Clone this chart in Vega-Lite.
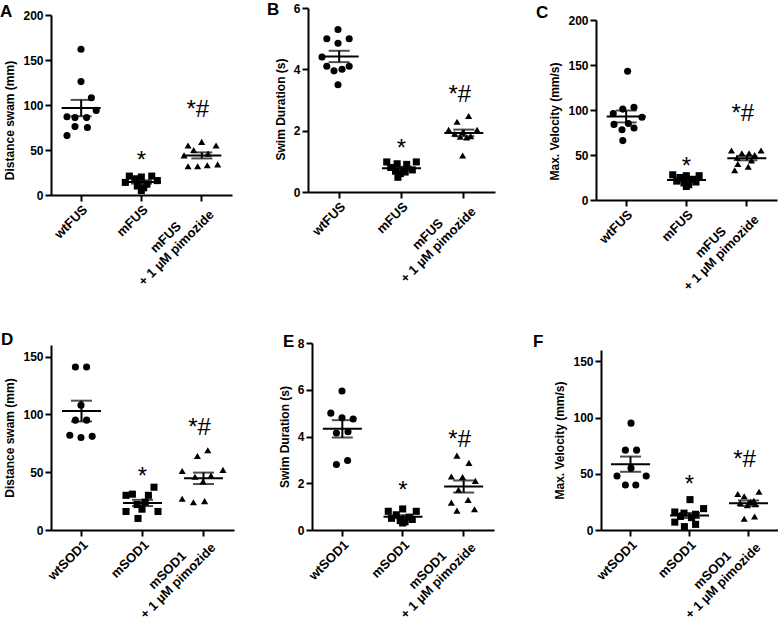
{
"$schema":"https://vega.github.io/schema/vega-lite/v6.json",
"autosize":{"type":"none"},
"padding":{"left":51,"top":8,"right":727,"bottom":613},
"datasets":{"pts":[
{"panel":"A","group":"wtFUS","value":162,"jitter":0},{"panel":"A","group":"wtFUS","value":126,"jitter":0},{"panel":"A","group":"wtFUS","value":108,"jitter":1.3},{"panel":"A","group":"wtFUS","value":94,"jitter":1.9},{"panel":"A","group":"wtFUS","value":87,"jitter":-1.75},{"panel":"A","group":"wtFUS","value":86,"jitter":-0.75},{"panel":"A","group":"wtFUS","value":86,"jitter":0.7},{"panel":"A","group":"wtFUS","value":76,"jitter":-0.75},{"panel":"A","group":"wtFUS","value":75,"jitter":0.8},{"panel":"A","group":"wtFUS","value":66,"jitter":-1.75},
{"panel":"A","group":"mFUS","value":21,"jitter":-1.5},{"panel":"A","group":"mFUS","value":20,"jitter":0},{"panel":"A","group":"mFUS","value":21,"jitter":1.3},{"panel":"A","group":"mFUS","value":18,"jitter":-0.7},{"panel":"A","group":"mFUS","value":16,"jitter":2},{"panel":"A","group":"mFUS","value":14,"jitter":-2},{"panel":"A","group":"mFUS","value":12,"jitter":0.7},{"panel":"A","group":"mFUS","value":10,"jitter":-0.5},{"panel":"A","group":"mFUS","value":8,"jitter":0.3},{"panel":"A","group":"mFUS","value":5,"jitter":0},
{"panel":"A","group":"mFUS + 1 µM pimozide","value":59,"jitter":0},{"panel":"A","group":"mFUS + 1 µM pimozide","value":55,"jitter":-1.7},{"panel":"A","group":"mFUS + 1 µM pimozide","value":55,"jitter":1.8},{"panel":"A","group":"mFUS + 1 µM pimozide","value":50,"jitter":-1},{"panel":"A","group":"mFUS + 1 µM pimozide","value":46,"jitter":0.8},{"panel":"A","group":"mFUS + 1 µM pimozide","value":44,"jitter":-2.2},{"panel":"A","group":"mFUS + 1 µM pimozide","value":34,"jitter":2},{"panel":"A","group":"mFUS + 1 µM pimozide","value":32,"jitter":-1.7},{"panel":"A","group":"mFUS + 1 µM pimozide","value":32,"jitter":-0.5},{"panel":"A","group":"mFUS + 1 µM pimozide","value":33,"jitter":0.7},
{"panel":"B","group":"wtFUS","value":5.3,"jitter":0},{"panel":"B","group":"wtFUS","value":5.0,"jitter":-1.4},{"panel":"B","group":"wtFUS","value":5.0,"jitter":1.4},{"panel":"B","group":"wtFUS","value":4.85,"jitter":0},{"panel":"B","group":"wtFUS","value":4.4,"jitter":-2},{"panel":"B","group":"wtFUS","value":4.1,"jitter":-1.4},{"panel":"B","group":"wtFUS","value":4.1,"jitter":1.4},{"panel":"B","group":"wtFUS","value":4.0,"jitter":0.5},{"panel":"B","group":"wtFUS","value":3.95,"jitter":-0.5},{"panel":"B","group":"wtFUS","value":3.5,"jitter":0},
{"panel":"B","group":"mFUS","value":0.98,"jitter":-1.7},{"panel":"B","group":"mFUS","value":0.98,"jitter":2},{"panel":"B","group":"mFUS","value":0.92,"jitter":-0.4},{"panel":"B","group":"mFUS","value":0.9,"jitter":0.8},{"panel":"B","group":"mFUS","value":0.8,"jitter":-1.2},{"panel":"B","group":"mFUS","value":0.72,"jitter":1.5},{"panel":"B","group":"mFUS","value":0.68,"jitter":-0.6},{"panel":"B","group":"mFUS","value":0.65,"jitter":0.6},{"panel":"B","group":"mFUS","value":0.6,"jitter":0},{"panel":"B","group":"mFUS","value":0.48,"jitter":-0.3},
{"panel":"B","group":"mFUS + 1 µM pimozide","value":2.48,"jitter":0.75},{"panel":"B","group":"mFUS + 1 µM pimozide","value":2.29,"jitter":-0.7},{"panel":"B","group":"mFUS + 1 µM pimozide","value":2.03,"jitter":-1.75},{"panel":"B","group":"mFUS + 1 µM pimozide","value":2.03,"jitter":1.8},{"panel":"B","group":"mFUS + 1 µM pimozide","value":1.95,"jitter":0},{"panel":"B","group":"mFUS + 1 µM pimozide","value":1.9,"jitter":-1},{"panel":"B","group":"mFUS + 1 µM pimozide","value":1.82,"jitter":1},{"panel":"B","group":"mFUS + 1 µM pimozide","value":1.8,"jitter":-0.3},{"panel":"B","group":"mFUS + 1 µM pimozide","value":1.78,"jitter":0.5},{"panel":"B","group":"mFUS + 1 µM pimozide","value":1.19,"jitter":0},
{"panel":"C","group":"wtFUS","value":143,"jitter":0.2},{"panel":"C","group":"wtFUS","value":103,"jitter":1},{"panel":"C","group":"wtFUS","value":101,"jitter":-0.4},{"panel":"C","group":"wtFUS","value":96,"jitter":-1.6},{"panel":"C","group":"wtFUS","value":92,"jitter":2},{"panel":"C","group":"wtFUS","value":84,"jitter":-1.5},{"panel":"C","group":"wtFUS","value":85,"jitter":0.3},{"panel":"C","group":"wtFUS","value":80,"jitter":1},{"panel":"C","group":"wtFUS","value":78,"jitter":-0.5},{"panel":"C","group":"wtFUS","value":66,"jitter":-0.4},
{"panel":"C","group":"mFUS","value":28,"jitter":-1.7},{"panel":"C","group":"mFUS","value":27,"jitter":0},{"panel":"C","group":"mFUS","value":27,"jitter":1.6},{"panel":"C","group":"mFUS","value":25,"jitter":-0.8},{"panel":"C","group":"mFUS","value":23,"jitter":0.8},{"panel":"C","group":"mFUS","value":21,"jitter":-1.2},{"panel":"C","group":"mFUS","value":20,"jitter":1.2},{"panel":"C","group":"mFUS","value":19,"jitter":-0.3},{"panel":"C","group":"mFUS","value":17,"jitter":0.3},{"panel":"C","group":"mFUS","value":15,"jitter":0},
{"panel":"C","group":"mFUS + 1 µM pimozide","value":55,"jitter":-1.9},{"panel":"C","group":"mFUS + 1 µM pimozide","value":55,"jitter":1.8},{"panel":"C","group":"mFUS + 1 µM pimozide","value":52,"jitter":-0.6},{"panel":"C","group":"mFUS + 1 µM pimozide","value":52,"jitter":0.3},{"panel":"C","group":"mFUS + 1 µM pimozide","value":50,"jitter":1},{"panel":"C","group":"mFUS + 1 µM pimozide","value":47,"jitter":-1.2},{"panel":"C","group":"mFUS + 1 µM pimozide","value":44,"jitter":0.6},{"panel":"C","group":"mFUS + 1 µM pimozide","value":40,"jitter":-1.1},{"panel":"C","group":"mFUS + 1 µM pimozide","value":37,"jitter":0.2},{"panel":"C","group":"mFUS + 1 µM pimozide","value":33,"jitter":-1.5},
{"panel":"D","group":"wtSOD1","value":141,"jitter":-0.7},{"panel":"D","group":"wtSOD1","value":141,"jitter":0.7},{"panel":"D","group":"wtSOD1","value":108,"jitter":0},{"panel":"D","group":"wtSOD1","value":95,"jitter":-0.7},{"panel":"D","group":"wtSOD1","value":95,"jitter":0.7},{"panel":"D","group":"wtSOD1","value":82,"jitter":-1.4},{"panel":"D","group":"wtSOD1","value":80,"jitter":0},{"panel":"D","group":"wtSOD1","value":81,"jitter":1.4},
{"panel":"D","group":"mSOD1","value":37,"jitter":1.5},{"panel":"D","group":"mSOD1","value":31,"jitter":-1.2},{"panel":"D","group":"mSOD1","value":30,"jitter":-2},{"panel":"D","group":"mSOD1","value":30,"jitter":0.8},{"panel":"D","group":"mSOD1","value":24,"jitter":0.4},{"panel":"D","group":"mSOD1","value":22,"jitter":-0.6},{"panel":"D","group":"mSOD1","value":18,"jitter":0},{"panel":"D","group":"mSOD1","value":16,"jitter":-2},{"panel":"D","group":"mSOD1","value":16,"jitter":2},{"panel":"D","group":"mSOD1","value":10,"jitter":-0.5},
{"panel":"D","group":"mSOD1 + 1 µM pimozide","value":69,"jitter":0.6},{"panel":"D","group":"mSOD1 + 1 µM pimozide","value":64,"jitter":-0.7},{"panel":"D","group":"mSOD1 + 1 µM pimozide","value":51,"jitter":-2.6},{"panel":"D","group":"mSOD1 + 1 µM pimozide","value":52,"jitter":2.5},{"panel":"D","group":"mSOD1 + 1 µM pimozide","value":47,"jitter":1},{"panel":"D","group":"mSOD1 + 1 µM pimozide","value":46,"jitter":-1},{"panel":"D","group":"mSOD1 + 1 µM pimozide","value":42,"jitter":0},{"panel":"D","group":"mSOD1 + 1 µM pimozide","value":27,"jitter":-2.6},{"panel":"D","group":"mSOD1 + 1 µM pimozide","value":24,"jitter":-1.2},{"panel":"D","group":"mSOD1 + 1 µM pimozide","value":25,"jitter":0.2},
{"panel":"E","group":"wtSOD1","value":5.95,"jitter":0},{"panel":"E","group":"wtSOD1","value":5.0,"jitter":-1.4},{"panel":"E","group":"wtSOD1","value":4.8,"jitter":0},{"panel":"E","group":"wtSOD1","value":4.75,"jitter":1.4},{"panel":"E","group":"wtSOD1","value":4.2,"jitter":0.75},{"panel":"E","group":"wtSOD1","value":4.15,"jitter":-0.7},{"panel":"E","group":"wtSOD1","value":2.97,"jitter":0.7},{"panel":"E","group":"wtSOD1","value":2.8,"jitter":-0.7},
{"panel":"E","group":"mSOD1","value":0.9,"jitter":0},{"panel":"E","group":"mSOD1","value":0.8,"jitter":-1.8},{"panel":"E","group":"mSOD1","value":0.8,"jitter":1.7},{"panel":"E","group":"mSOD1","value":0.65,"jitter":-0.8},{"panel":"E","group":"mSOD1","value":0.55,"jitter":0.8},{"panel":"E","group":"mSOD1","value":0.5,"jitter":-1.4},{"panel":"E","group":"mSOD1","value":0.45,"jitter":1.2},{"panel":"E","group":"mSOD1","value":0.4,"jitter":-0.3},{"panel":"E","group":"mSOD1","value":0.35,"jitter":0.3},{"panel":"E","group":"mSOD1","value":0.3,"jitter":0},
{"panel":"E","group":"mSOD1 + 1 µM pimozide","value":3.18,"jitter":-0.8},{"panel":"E","group":"mSOD1 + 1 µM pimozide","value":2.87,"jitter":0.7},{"panel":"E","group":"mSOD1 + 1 µM pimozide","value":2.29,"jitter":-1.5},{"panel":"E","group":"mSOD1 + 1 µM pimozide","value":2.27,"jitter":-0.1},{"panel":"E","group":"mSOD1 + 1 µM pimozide","value":2.1,"jitter":1.5},{"panel":"E","group":"mSOD1 + 1 µM pimozide","value":1.72,"jitter":-0.6},{"panel":"E","group":"mSOD1 + 1 µM pimozide","value":1.17,"jitter":-1.5},{"panel":"E","group":"mSOD1 + 1 µM pimozide","value":1.29,"jitter":0.6},{"panel":"E","group":"mSOD1 + 1 µM pimozide","value":0.83,"jitter":-0.8},{"panel":"E","group":"mSOD1 + 1 µM pimozide","value":0.89,"jitter":1.4},
{"panel":"F","group":"wtSOD1","value":95,"jitter":0},{"panel":"F","group":"wtSOD1","value":71,"jitter":-0.7},{"panel":"F","group":"wtSOD1","value":71,"jitter":0.7},{"panel":"F","group":"wtSOD1","value":55,"jitter":0},{"panel":"F","group":"wtSOD1","value":48,"jitter":-1.75},{"panel":"F","group":"wtSOD1","value":48,"jitter":1.9},{"panel":"F","group":"wtSOD1","value":40,"jitter":-0.7},{"panel":"F","group":"wtSOD1","value":40,"jitter":0.6},
{"panel":"F","group":"mSOD1","value":27,"jitter":0},{"panel":"F","group":"mSOD1","value":19,"jitter":1.7},{"panel":"F","group":"mSOD1","value":16,"jitter":-1.9},{"panel":"F","group":"mSOD1","value":15,"jitter":-0.75},{"panel":"F","group":"mSOD1","value":14,"jitter":0.7},{"panel":"F","group":"mSOD1","value":12,"jitter":-1.2},{"panel":"F","group":"mSOD1","value":11,"jitter":0.2},{"panel":"F","group":"mSOD1","value":7,"jitter":-1.9},{"panel":"F","group":"mSOD1","value":5,"jitter":0.7},{"panel":"F","group":"mSOD1","value":3,"jitter":-0.7},
{"panel":"F","group":"mSOD1 + 1 µM pimozide","value":34,"jitter":1.25},{"panel":"F","group":"mSOD1 + 1 µM pimozide","value":32,"jitter":-1.4},{"panel":"F","group":"mSOD1 + 1 µM pimozide","value":30,"jitter":-0.6},{"panel":"F","group":"mSOD1 + 1 µM pimozide","value":26,"jitter":0.6},{"panel":"F","group":"mSOD1 + 1 µM pimozide","value":25,"jitter":0.2},{"panel":"F","group":"mSOD1 + 1 µM pimozide","value":24,"jitter":-1.1},{"panel":"F","group":"mSOD1 + 1 µM pimozide","value":23,"jitter":0.8},{"panel":"F","group":"mSOD1 + 1 µM pimozide","value":22,"jitter":-0.2},{"panel":"F","group":"mSOD1 + 1 µM pimozide","value":12,"jitter":0.7},{"panel":"F","group":"mSOD1 + 1 µM pimozide","value":10,"jitter":-0.6}
]},
"columns":3,
"spacing":{"row":143,"column":20},
"bounds":"flush",
"concat":[
  {"width":237,"height":192,"data":{"name":"pts"},
   "title":{"text":"A","dx":-51,"dy":6,"offset":-7},
   "transform":[{"filter":"datum.panel === 'A'"}],
   "encoding":{"x":{"field":"group","type":"nominal","sort":["wtFUS","mFUS","mFUS + 1 µM pimozide"],"scale":{"type":"band","paddingInner":0,"paddingOuter":0,"range":[0,181]},"axis":{"title":null,"offset":-5,"labelBaseline":{"condition":{"test":"indexof(datum.value, 'pimozide') > 0","value":"middle"},"value":"top"},"labelAlign":{"condition":{"test":"indexof(datum.value, 'pimozide') > 0","value":"center"},"value":"right"},"labelOffset":{"condition":{"test":"indexof(datum.value, 'pimozide') > 0","value":-36},"value":0},"labelPadding":{"condition":{"test":"indexof(datum.value, 'pimozide') > 0","value":36},"value":2},"labelExpr":"indexof(datum.label, ' + ') > 0 ? [slice(datum.label, 0, indexof(datum.label, ' + ')), '+ 1 µM pimozide'] : datum.label"}}},
   "layer":[
    {"mark":{"type":"point","filled":true,"opacity":1,"color":"black","size":50},
     "encoding":{"y":{"field":"value","type":"quantitative","title":"Distance swam (mm)","scale":{"domain":[0,200],"range":[187,7]},"axis":{"values":[0,50,100,150,200],"titleY":112}},
      "xOffset":{"field":"jitter","type":"quantitative","scale":{"domain":[-3,3],"range":[6,54]}},
      "shape":{"field":"group","type":"nominal","scale":{"domain":["wtFUS","mFUS","mFUS + 1 µM pimozide"],"range":["circle","square","triangle-up"]},"legend":null}}},
    {"mark":{"type":"tick","color":"black","size":39,"thickness":2},"encoding":{"y":{"aggregate":"mean","field":"value","type":"quantitative","title":"Distance swam (mm)"}}},
    {"mark":{"type":"errorbar","extent":"stderr","ticks":true,"size":21,"thickness":2,"color":"black"},"encoding":{"y":{"field":"value","type":"quantitative","title":"Distance swam (mm)"}}},
    {"transform":[{"filter":"datum.group === 'mFUS'"}],"mark":{"type":"text","text":"*","fontSize":24,"dy":-8,"baseline":"alphabetic"},"encoding":{"y":{"aggregate":"max","field":"value","type":"quantitative","title":"Distance swam (mm)"}}},
    {"transform":[{"filter":"indexof(datum.group, 'pimozide') > 0"}],"mark":{"type":"text","text":"*#","fontSize":24,"dy":-25,"dx":-4,"baseline":"alphabetic"},"encoding":{"y":{"aggregate":"max","field":"value","type":"quantitative","title":"Distance swam (mm)"}}}
   ]},
  {"width":268,"height":192,"data":{"name":"pts"},
   "title":{"text":"B","dx":-41,"dy":7,"offset":-10},
   "transform":[{"filter":"datum.panel === 'B'"}],
   "encoding":{"x":{"field":"group","type":"nominal","sort":["wtFUS","mFUS","mFUS + 1 µM pimozide"],"scale":{"type":"band","paddingInner":0,"paddingOuter":0,"range":[0,187]},"axis":{"title":null,"offset":-8,"labelBaseline":{"condition":{"test":"indexof(datum.value, 'pimozide') > 0","value":"middle"},"value":"top"},"labelAlign":{"condition":{"test":"indexof(datum.value, 'pimozide') > 0","value":"center"},"value":"right"},"labelOffset":{"condition":{"test":"indexof(datum.value, 'pimozide') > 0","value":-36},"value":0},"labelPadding":{"condition":{"test":"indexof(datum.value, 'pimozide') > 0","value":36},"value":2},"labelExpr":"indexof(datum.label, ' + ') > 0 ? [slice(datum.label, 0, indexof(datum.label, ' + ')), '+ 1 µM pimozide'] : datum.label"}}},
   "layer":[
    {"mark":{"type":"point","filled":true,"opacity":1,"color":"black","size":50},
     "encoding":{"y":{"field":"value","type":"quantitative","title":"Swim Duration (s)","scale":{"domain":[0,6],"range":[184,0]},"axis":{"values":[0,2,4,6],"titleY":101}},
      "xOffset":{"field":"jitter","type":"quantitative","scale":{"domain":[-3,3],"range":[7,55]}},
      "shape":{"field":"group","type":"nominal","scale":{"domain":["wtFUS","mFUS","mFUS + 1 µM pimozide"],"range":["circle","square","triangle-up"]},"legend":null}}},
    {"mark":{"type":"tick","color":"black","size":39,"thickness":2},"encoding":{"y":{"aggregate":"mean","field":"value","type":"quantitative","title":"Swim Duration (s)"}}},
    {"mark":{"type":"errorbar","extent":"stderr","ticks":true,"size":21,"thickness":2,"color":"black"},"encoding":{"y":{"field":"value","type":"quantitative","title":"Swim Duration (s)"}}},
    {"transform":[{"filter":"datum.group === 'mFUS'"}],"mark":{"type":"text","text":"*","fontSize":24,"dy":-6,"baseline":"alphabetic"},"encoding":{"y":{"aggregate":"max","field":"value","type":"quantitative","title":"Swim Duration (s)"}}},
    {"transform":[{"filter":"indexof(datum.group, 'pimozide') > 0"}],"mark":{"type":"text","text":"*#","fontSize":24,"dy":-14,"dx":-4,"baseline":"alphabetic"},"encoding":{"y":{"aggregate":"max","field":"value","type":"quantitative","title":"Swim Duration (s)"}}}
   ]},
 {"width":182,"height":192,"data":{"name":"pts"},
   "title":{"text":"C","dx":-60,"dy":9,"offset":-5},
   "transform":[{"filter":"datum.panel === 'C'"}],
   "encoding":{"x":{"field":"group","type":"nominal","sort":["wtFUS","mFUS","mFUS + 1 µM pimozide"],"scale":{"type":"band","paddingInner":0,"paddingOuter":0,"range":[0,181]},"axis":{"title":null,"labelBaseline":{"condition":{"test":"indexof(datum.value, 'pimozide') > 0","value":"middle"},"value":"top"},"labelAlign":{"condition":{"test":"indexof(datum.value, 'pimozide') > 0","value":"center"},"value":"right"},"labelOffset":{"condition":{"test":"indexof(datum.value, 'pimozide') > 0","value":-36},"value":0},"labelPadding":{"condition":{"test":"indexof(datum.value, 'pimozide') > 0","value":36},"value":2},"labelExpr":"indexof(datum.label, ' + ') > 0 ? [slice(datum.label, 0, indexof(datum.label, ' + ')), '+ 1 µM pimozide'] : datum.label"}}},
   "layer":[
    {"mark":{"type":"point","filled":true,"opacity":1,"color":"black","size":50},
     "encoding":{"y":{"field":"value","type":"quantitative","title":"Max. Velocity (mm/s)","scale":{"domain":[0,200],"range":[192,12]},"axis":{"values":[0,50,100,150,200],"titleY":113}},
      "xOffset":{"field":"jitter","type":"quantitative","scale":{"domain":[-3,3],"range":[6,54]}},
      "shape":{"field":"group","type":"nominal","scale":{"domain":["wtFUS","mFUS","mFUS + 1 µM pimozide"],"range":["circle","square","triangle-up"]},"legend":null}}},
    {"mark":{"type":"tick","color":"black","size":39,"thickness":2},"encoding":{"y":{"aggregate":"mean","field":"value","type":"quantitative","title":"Max. Velocity (mm/s)"}}},
    {"mark":{"type":"errorbar","extent":"stderr","ticks":true,"size":21,"thickness":2,"color":"black"},"encoding":{"y":{"field":"value","type":"quantitative","title":"Max. Velocity (mm/s)"}}},
    {"transform":[{"filter":"datum.group === 'mFUS'"}],"mark":{"type":"text","text":"*","fontSize":24,"dy":-1,"baseline":"alphabetic"},"encoding":{"y":{"aggregate":"max","field":"value","type":"quantitative","title":"Max. Velocity (mm/s)"}}},
    {"transform":[{"filter":"indexof(datum.group, 'pimozide') > 0"}],"mark":{"type":"text","text":"*#","fontSize":24,"dy":-30,"dx":-4,"baseline":"alphabetic"},"encoding":{"y":{"aggregate":"max","field":"value","type":"quantitative","title":"Max. Velocity (mm/s)"}}}
   ]},
  {"width":237,"height":187,"data":{"name":"pts"},
   "title":{"text":"D","dx":-50,"dy":2,"offset":-4},
   "transform":[{"filter":"datum.panel === 'D'"}],
   "encoding":{"x":{"field":"group","type":"nominal","sort":["wtSOD1","mSOD1","mSOD1 + 1 µM pimozide"],"scale":{"type":"band","paddingInner":0,"paddingOuter":0,"range":[0,183]},"axis":{"title":null,"labelBaseline":{"condition":{"test":"indexof(datum.value, 'pimozide') > 0","value":"middle"},"value":"top"},"labelAlign":{"condition":{"test":"indexof(datum.value, 'pimozide') > 0","value":"center"},"value":"right"},"labelOffset":{"condition":{"test":"indexof(datum.value, 'pimozide') > 0","value":-36},"value":0},"labelPadding":{"condition":{"test":"indexof(datum.value, 'pimozide') > 0","value":34},"value":2},"labelExpr":"indexof(datum.label, ' + ') > 0 ? [slice(datum.label, 0, indexof(datum.label, ' + ')), '+ 1 µM pimozide'] : datum.label"}}},
   "layer":[
    {"mark":{"type":"point","filled":true,"opacity":1,"color":"black","size":50},
     "encoding":{"y":{"field":"value","type":"quantitative","title":"Distance swam (mm)","scale":{"domain":[0,150],"range":[187,2]},"axis":{"values":[0,50,100,150]}},
      "xOffset":{"field":"jitter","type":"quantitative","scale":{"domain":[-3,3],"range":[6,54]}},
      "shape":{"field":"group","type":"nominal","scale":{"domain":["wtSOD1","mSOD1","mSOD1 + 1 µM pimozide"],"range":["circle","square","triangle-up"]},"legend":null}}},
    {"mark":{"type":"tick","color":"black","size":39,"thickness":2},"encoding":{"y":{"aggregate":"mean","field":"value","type":"quantitative","title":"Distance swam (mm)"}}},
    {"mark":{"type":"errorbar","extent":"stderr","ticks":true,"size":21,"thickness":2,"color":"black"},"encoding":{"y":{"field":"value","type":"quantitative","title":"Distance swam (mm)"}}},
    {"transform":[{"filter":"datum.group === 'mSOD1'"}],"mark":{"type":"text","text":"*","fontSize":24,"dy":-3,"baseline":"alphabetic"},"encoding":{"y":{"aggregate":"max","field":"value","type":"quantitative","title":"Distance swam (mm)"}}},
    {"transform":[{"filter":"indexof(datum.group, 'pimozide') > 0"}],"mark":{"type":"text","text":"*#","fontSize":24,"dy":-15,"dx":-4,"baseline":"alphabetic"},"encoding":{"y":{"aggregate":"max","field":"value","type":"quantitative","title":"Distance swam (mm)"}}}
   ]},
  {"width":268,"height":187,"data":{"name":"pts"},
   "title":{"text":"E","dx":-25,"dy":5,"offset":-9},
   "transform":[{"filter":"datum.panel === 'E'"}],
   "encoding":{"x":{"field":"group","type":"nominal","sort":["wtSOD1","mSOD1","mSOD1 + 1 µM pimozide"],"scale":{"type":"band","paddingInner":0,"paddingOuter":0,"range":[4,186]},"axis":{"title":null,"labelBaseline":{"condition":{"test":"indexof(datum.value, 'pimozide') > 0","value":"middle"},"value":"top"},"labelAlign":{"condition":{"test":"indexof(datum.value, 'pimozide') > 0","value":"center"},"value":"right"},"labelOffset":{"condition":{"test":"indexof(datum.value, 'pimozide') > 0","value":-36},"value":0},"labelPadding":{"condition":{"test":"indexof(datum.value, 'pimozide') > 0","value":34},"value":2},"labelExpr":"indexof(datum.label, ' + ') > 0 ? [slice(datum.label, 0, indexof(datum.label, ' + ')), '+ 1 µM pimozide'] : datum.label"}}},
   "layer":[
    {"mark":{"type":"point","filled":true,"opacity":1,"color":"black","size":50},
     "encoding":{"y":{"field":"value","type":"quantitative","title":"Swim Duration (s)","scale":{"domain":[0,8],"range":[187,0]},"axis":{"values":[0,2,4,6,8],"offset":-4}},
      "xOffset":{"field":"jitter","type":"quantitative","scale":{"domain":[-3,3],"range":[6,54]}},
      "shape":{"field":"group","type":"nominal","scale":{"domain":["wtSOD1","mSOD1","mSOD1 + 1 µM pimozide"],"range":["circle","square","triangle-up"]},"legend":null}}},
    {"mark":{"type":"tick","color":"black","size":39,"thickness":2},"encoding":{"y":{"aggregate":"mean","field":"value","type":"quantitative","title":"Swim Duration (s)"}}},
    {"mark":{"type":"errorbar","extent":"stderr","ticks":true,"size":21,"thickness":2,"color":"black"},"encoding":{"y":{"field":"value","type":"quantitative","title":"Swim Duration (s)"}}},
    {"transform":[{"filter":"datum.group === 'mSOD1'"}],"mark":{"type":"text","text":"*","fontSize":24,"dy":-11,"baseline":"alphabetic"},"encoding":{"y":{"aggregate":"max","field":"value","type":"quantitative","title":"Swim Duration (s)"}}},
    {"transform":[{"filter":"indexof(datum.group, 'pimozide') > 0"}],"mark":{"type":"text","text":"*#","fontSize":24,"dy":-9,"dx":-4,"baseline":"alphabetic"},"encoding":{"y":{"aggregate":"max","field":"value","type":"quantitative","title":"Swim Duration (s)"}}}
   ]},
 {"width":182,"height":187,"data":{"name":"pts"},
   "title":{"text":"F","dx":-63,"dy":4,"offset":-4},
   "transform":[{"filter":"datum.panel === 'F'"}],
   "encoding":{"x":{"field":"group","type":"nominal","sort":["wtSOD1","mSOD1","mSOD1 + 1 µM pimozide"],"scale":{"type":"band","paddingInner":0,"paddingOuter":0,"range":[5,182]},"axis":{"title":null,"labelBaseline":{"condition":{"test":"indexof(datum.value, 'pimozide') > 0","value":"middle"},"value":"top"},"labelAlign":{"condition":{"test":"indexof(datum.value, 'pimozide') > 0","value":"center"},"value":"right"},"labelOffset":{"condition":{"test":"indexof(datum.value, 'pimozide') > 0","value":-36},"value":0},"labelPadding":{"condition":{"test":"indexof(datum.value, 'pimozide') > 0","value":34},"value":2},"labelExpr":"indexof(datum.label, ' + ') > 0 ? [slice(datum.label, 0, indexof(datum.label, ' + ')), '+ 1 µM pimozide'] : datum.label"}}},
   "layer":[
    {"mark":{"type":"point","filled":true,"opacity":1,"color":"black","size":50},
     "encoding":{"y":{"field":"value","type":"quantitative","title":"Max. Velocity (mm/s)","scale":{"domain":[0,150],"range":[187,7]},"axis":{"values":[0,50,100,150],"offset":-5}},
      "xOffset":{"field":"jitter","type":"quantitative","scale":{"domain":[-3,3],"range":[6,54]}},
      "shape":{"field":"group","type":"nominal","scale":{"domain":["wtSOD1","mSOD1","mSOD1 + 1 µM pimozide"],"range":["circle","square","triangle-up"]},"legend":null}}},
    {"mark":{"type":"tick","color":"black","size":39,"thickness":2},"encoding":{"y":{"aggregate":"mean","field":"value","type":"quantitative","title":"Max. Velocity (mm/s)"}}},
    {"mark":{"type":"errorbar","extent":"stderr","ticks":true,"size":21,"thickness":2,"color":"black"},"encoding":{"y":{"field":"value","type":"quantitative","title":"Max. Velocity (mm/s)"}}},
    {"transform":[{"filter":"datum.group === 'mSOD1'"}],"mark":{"type":"text","text":"*","fontSize":24,"dy":-8,"baseline":"alphabetic"},"encoding":{"y":{"aggregate":"max","field":"value","type":"quantitative","title":"Max. Velocity (mm/s)"}}},
    {"transform":[{"filter":"indexof(datum.group, 'pimozide') > 0"}],"mark":{"type":"text","text":"*#","fontSize":24,"dy":-25,"dx":-4,"baseline":"alphabetic"},"encoding":{"y":{"aggregate":"max","field":"value","type":"quantitative","title":"Max. Velocity (mm/s)"}}}
   ]}
],
"config":{
 "font":"Liberation Sans",
 "view":{"stroke":null},
 "axis":{"domainColor":"black","domainWidth":2,"tickColor":"black","tickWidth":2,"tickSize":6,"grid":false,"labelColor":"black","labelFont":"Liberation Sans","labelFontWeight":"bold","labelFontSize":12,"labelPadding":2,"titleFont":"Liberation Sans","titleFontWeight":"bold","titleFontSize":12,"titleColor":"black","titlePadding":6},
 "axisX":{"labelAngle":-45,"labelFontSize":13,"labelLineHeight":15},
 "title":{"anchor":"start","frame":"group","fontSize":17,"fontWeight":"bold","color":"black","font":"Liberation Sans","baseline":"alphabetic"},
 "text":{"font":"Liberation Sans","color":"black"}
}
}
